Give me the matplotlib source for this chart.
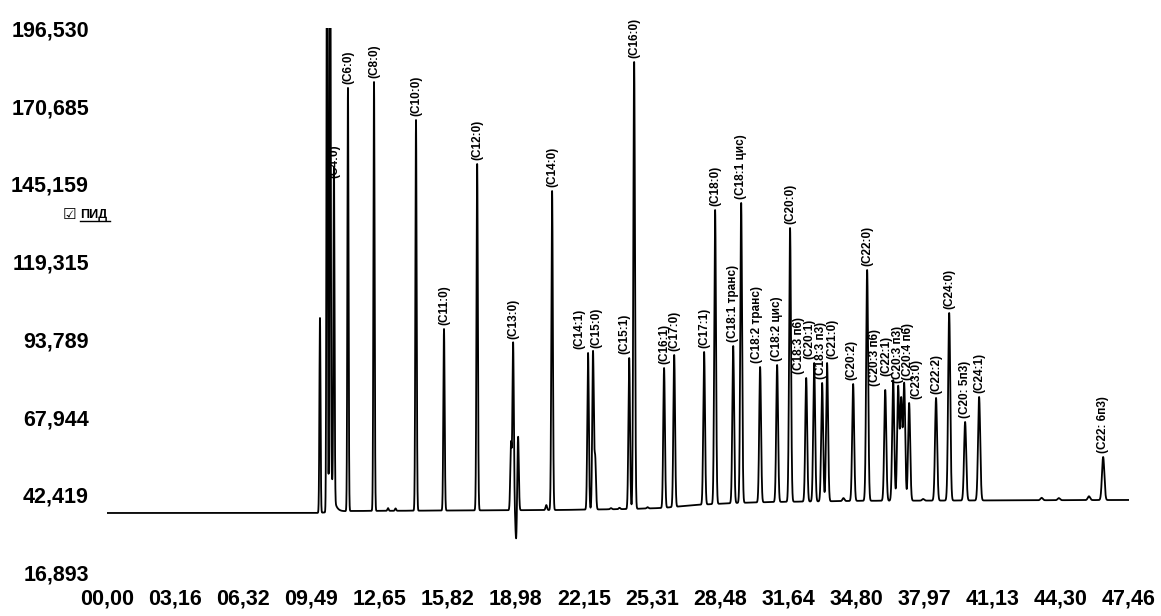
import numpy as np
import matplotlib
matplotlib.use("Agg")
import matplotlib.pyplot as plt
from matplotlib.lines import Line2D

plt.rcParams["font.family"] = ["Liberation Sans", "DejaVu Sans"]

# labelled peaks: retention time (min) and apex signal
peak_names = [
    "(C4:0)", "(C6:0)", "(C8:0)", "(C10:0)", "(C11:0)", "(C12:0)", "(C13:0)",
    "(C14:0)", "(C14:1)", "(C15:0)", "(C15:1)", "(C16:0)", "(C16:1)", "(C17:0)",
    "(C17:1)", "(C18:0)", "(C18:1 транс)", "(C18:1 цис)", "(C18:2 транс)",
    "(C18:2 цис)", "(C20:0)", "(C18:3 п6)", "(C20:1)", "(C18:3 п3)", "(C21:0)",
    "(C20:2)", "(C22:0)", "(C20:3 п6)", "(C22:1)", "(C20:3 п3)", "(C20:4 п6)",
    "(C23:0)", "(C22:2)", "(C24:0)", "(C20: 5п3)", "(C24:1)", "(C22: 6п3)",
]
peak_times = [
    10.54, 11.19, 12.40, 14.35, 15.65, 17.19, 18.86,
    20.67, 22.34, 22.57, 24.25, 24.48, 25.87, 26.34,
    27.73, 28.24, 29.08, 29.45, 30.33,
    31.12, 31.72, 32.47, 32.84, 33.21, 33.44,
    34.65, 35.30, 36.14, 36.51, 36.74, 37.02,
    37.25, 38.50, 39.11, 39.85, 40.50, 46.26,
]
peak_tops = [
    145680, 176720, 178700, 166150, 97140, 151620, 92520,
    142710, 89220, 89550, 87560, 185300, 84260, 88560,
    89550, 136430, 91530, 138750, 84590,
    85250, 130490, 80960, 85910, 79310, 85910,
    78980, 116620, 77000, 80300, 77990, 78980,
    72700, 74360, 102420, 66430, 74690, 54870,
]

# unlabelled peaks: solvent front, shoulders and small bumps on the baseline
minor_times = [9.89, 10.22, 10.36, 18.76, 19.09, 22.67, 36.88,
               13.05, 13.40, 20.40, 23.40, 23.80, 25.10, 34.20,
               37.90, 43.40, 44.20, 45.60]
minor_tops = [100770, 260000, 260000, 59500, 61810, 54540, 73700,
              38000, 37900, 39000, 38000, 38100, 38300, 41300,
              41000, 41400, 41300, 41900]

# negative spike under C13:0
dip_time = 19.00
dip_bottom = 27470

# baseline drift
base_times = [0.0, 9.7, 11.3, 21.0, 24.3, 25.8, 27.3, 29.2, 31.0, 35.0, 47.46]
base_levels = [36380, 36380, 37040, 37370, 37700, 38040, 39030, 39690,
               40020, 40400, 40680]

# solvent tail after the front
tail_amp = 22000
tail_tau = 0.12

x_tick_labels = ["00,00", "03,16", "06,32", "09,49", "12,65", "15,82", "18,98",
                 "22,15", "25,31", "28,48", "31,64", "34,80", "37,97", "41,13",
                 "44,30", "47,46"]
y_ticks = [16893, 42419, 67944, 93789, 119315, 145159, 170685, 196530]

# sideways nudges (px) for crowded peak labels, as placed in the original
label_shift = {"(C14:1)": -9, "(C15:0)": 3, "(C15:1)": -5, "(C18:2 транс)": -3,
               "(C18:3 п6)": -7, "(C20:1)": -5, "(C18:3 п3)": -1, "(C21:0)": 5,
               "(C20:3 п6)": -10, "(C22:1)": -7, "(C20:4 п6)": 4, "(C23:0)": 7,
               "(C20:2)": -2}

t_end = 47.46
t = np.arange(0.0, t_end, 0.002)
base = np.interp(t, base_times, base_levels)
signal = base.copy()


def add_peak(t0, top):
    s = 0.018 + 0.0008 * t0
    h = top - np.interp(t0, base_times, base_levels)
    return h * np.exp(-0.5 * ((t - t0) / s) ** 2)


for t0, top in zip(peak_times + minor_times, peak_tops + minor_tops):
    signal += add_peak(t0, top)
signal += np.where(t > 10.36, tail_amp * np.exp(-(t - 10.36) / tail_tau), 0.0)
signal -= add_peak(dip_time, 2 * np.interp(dip_time, base_times, base_levels) - dip_bottom)

W, H = 1161, 616
fig = plt.figure(figsize=(W / 100, H / 100), dpi=100)
ax = fig.add_axes([107 / W, 1 - 572 / H, (1129 - 107) / W, (572 - 28) / H])
ax.plot(t, signal, color="black", lw=1.3)
ax.set_xlim(0, t_end)
ax.set_ylim(y_ticks[0], y_ticks[-1])

for name, t0, top in zip(peak_names, peak_times, peak_tops):
    dx = label_shift.get(name, 0) * 0.72
    ax.annotate(name, xy=(t0, top), xytext=(dx, 3), textcoords="offset points",
                rotation=90, ha="center", va="bottom", fontsize=8.5,
                fontweight="bold", annotation_clip=False)

ax.set_xticks(np.linspace(0, t_end, len(x_tick_labels)))
ax.set_xticklabels(x_tick_labels, fontsize=15.5, fontweight="bold")
ax.set_yticks(y_ticks)
ax.set_yticklabels([f"{v:,}" for v in y_ticks], fontsize=15.5, fontweight="bold")
ax.tick_params(length=0)
ax.tick_params(axis="y", pad=13)
ax.tick_params(axis="x", pad=12)
for sp in ax.spines.values():
    sp.set_visible(False)

# detector checkbox
fig.text(63 / W, 1 - 219 / H, "☑", fontsize=11, family=["DejaVu Sans"],
         fontweight="bold")
fig.text(80 / W, 1 - 218 / H, "ПИД", fontsize=9, fontweight="bold")
fig.add_artist(Line2D([80 / W, 110 / W], [1 - 221 / H, 1 - 221 / H],
                      color="black", lw=1.0))

fig.savefig("out.png", dpi=100)
